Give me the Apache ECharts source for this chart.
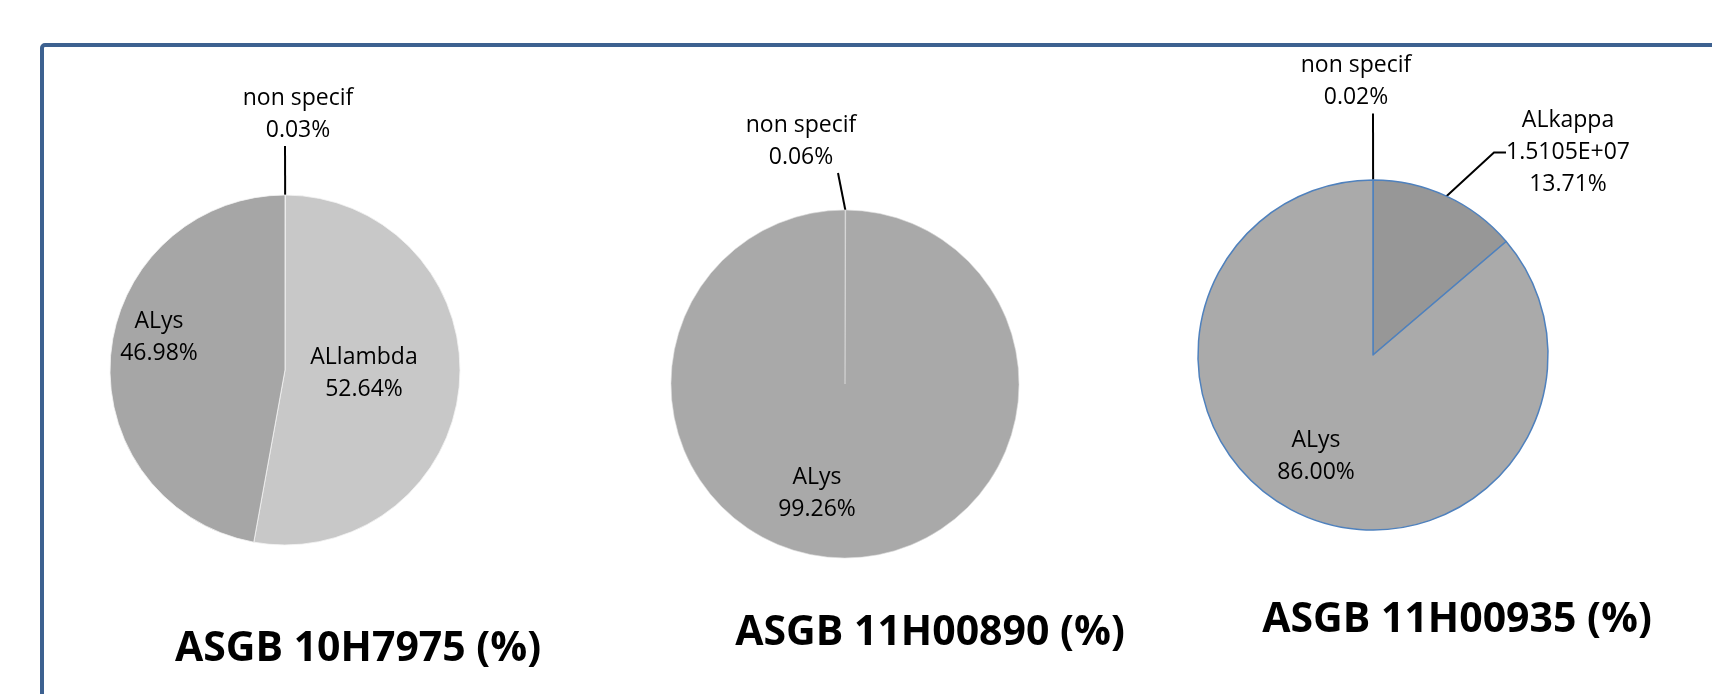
<!DOCTYPE html>
<html>
<head>
<meta charset="utf-8">
<script src="https://cdn.jsdelivr.net/npm/echarts@6/dist/echarts.min.js"></script>
<style>
  html, body { margin: 0; padding: 0; background: #ffffff; }
  #chart { width: 1712px; height: 694px; }
</style>
</head>
<body>
<div id="chart"></div>
<script>
// Composition of each sample, in percent of the total signal
const categories1 = ['non specif', 'ALlambda', 'ALys'];
const values1 = [0.03, 52.64, 46.98];

const categories2 = ['non specif', 'ALys'];
const values2 = [0.06, 99.26];

const categories3 = ['non specif', 'ALkappa', 'ALys'];
const values3 = [0.02, 13.71, 86.00];
const counts3 = [null, 1.5105e7, null];

const sampleTitles = ['ASGB 10H7975 (%)', 'ASGB 11H00890 (%)', 'ASGB 11H00935 (%)'];

// Layout and styling of the three pies.
// spots: label block anchor relative to the pie centre; pads: label padding
// (used to offset the leader-line anchor from the text centre).
const pieLayout = [
  {
    center: [285, 370], radius: 175,
    colors: ['#e8e8e8', '#c8c8c8', '#a6a6a6'],
    border: { color: '#f4f4f4', width: 0.8 },
    spots: [[0, -256], [79, 3.5], [-126, -32.5]],
    pads: [[0, 0, 0, 26], 0, 0],
    guided: [true, false, false],
    elbow: [0, 0, 0]
  },
  {
    center: [845, 384], radius: 174,
    colors: ['#e8e8e8', '#a9a9a9'],
    border: { color: '#dcdcdc', width: 0.6 },
    spots: [[-7, -243], [-28, 109.5]],
    pads: [[0, 74, 0, 0], 0],
    guided: [true, false],
    elbow: [0, 0]
  },
  {
    center: [1373, 355], radius: 175,
    colors: ['#4f81bd', '#979797', '#aaaaaa'],
    border: { color: '#4f81bd', width: 1.5 },
    spots: [[0, -273.5], [195, -202.5], [-57, 101.5]],
    pads: [[0, 34, 0, 0], 0, 0],
    guided: [true, true, false],
    elbow: [0, 12, 0]
  }
];
const titleSpots = [[353, 644], [925, 628], [1452, 615]];

const labelFont = { fontFamily: 'Open Sans', fontSize: 23, lineHeight: 32, color: '#000000' };

function sci(v) {
  const parts = v.toExponential(4).split('e');
  const e = parseInt(parts[1], 10);
  return parts[0] + 'E' + (e < 0 ? '-' : '+') + String(Math.abs(e)).padStart(2, '0');
}

function buildSeries(idx, names, values, counts) {
  const L = pieLayout[idx];
  return {
    type: 'pie',
    silent: true,
    animation: false,
    center: L.center,
    radius: L.radius,
    startAngle: 90,
    clockwise: true,
    avoidLabelOverlap: false,
    itemStyle: { borderColor: L.border.color, borderWidth: L.border.width },
    label: Object.assign({
      formatter: function (p) {
        const c = counts && counts[p.dataIndex] != null ? '\n' + sci(counts[p.dataIndex]) : '';
        return p.name + c + '\n' + p.value.toFixed(2) + '%';
      },
      align: 'center'
    }, labelFont),
    labelLine: { length: 14, length2: 0, minTurnAngle: 0, lineStyle: { color: '#000000', width: 2 } },
    labelLayout: function (params) {
      const s = L.spots[params.dataIndex];
      return { x: L.center[0] + s[0], y: L.center[1] + s[1], align: 'center', verticalAlign: 'middle' };
    },
    data: names.map(function (n, i) {
      return {
        name: n,
        value: values[i],
        itemStyle: { color: L.colors[i] },
        label: { position: L.guided[i] ? 'outside' : 'inside', padding: L.pads[i] },
        labelLine: { show: L.guided[i], length2: L.elbow[i] }
      };
    })
  };
}

const chart = echarts.init(document.getElementById('chart'), null, { renderer: 'canvas' });
chart.setOption({
  backgroundColor: '#ffffff',
  animation: false,
  title: sampleTitles.map(function (t, i) {
    return {
      text: t,
      left: titleSpots[i][0],
      top: titleSpots[i][1],
      textAlign: 'center',
      textVerticalAlign: 'middle',
      textStyle: { fontFamily: 'Open Sans', fontWeight: 'bold', fontSize: 41, color: '#000000' }
    };
  }),
  graphic: [{
    type: 'rect',
    silent: true,
    shape: { x: 42, y: 45, width: 1720, height: 720, r: 3 },
    style: { fill: null, stroke: '#3d6190', lineWidth: 4 }
  }],
  series: [
    buildSeries(0, categories1, values1, null),
    buildSeries(1, categories2, values2, null),
    buildSeries(2, categories3, values3, counts3)
  ]
});
</script>
</body>
</html>
